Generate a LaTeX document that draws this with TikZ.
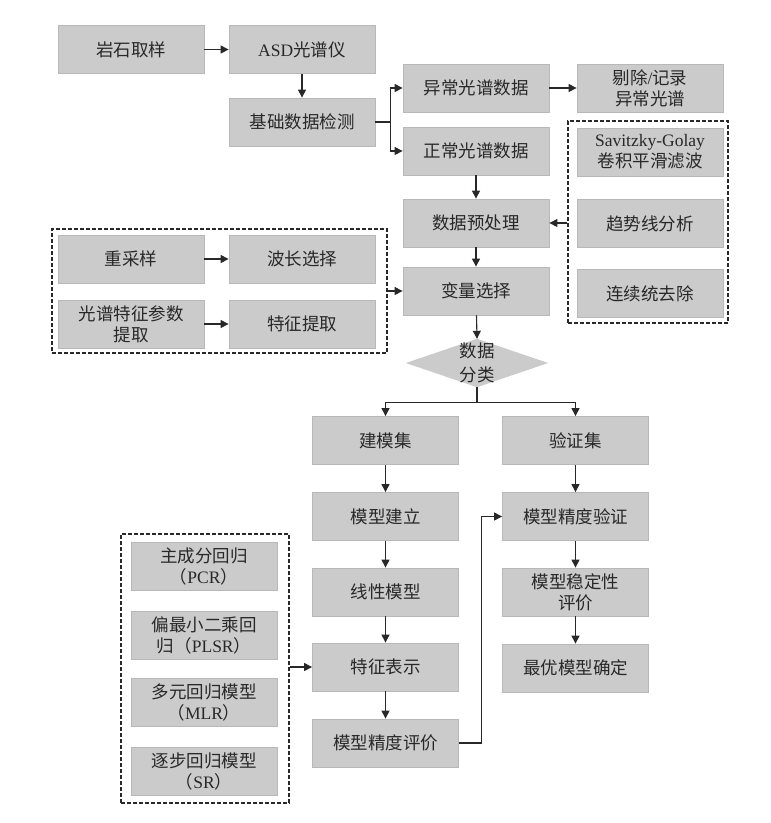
\documentclass[tikz,border=0pt]{standalone}
\usepackage{fontspec}
\setmainfont{Noto Sans CJK SC}
\newfontfamily\lat{Liberation Serif}
\usetikzlibrary{arrows.meta,calc}
\definecolor{boxfill}{RGB}{203,203,203}
\definecolor{boxline}{RGB}{184,184,184}
\definecolor{ink}{RGB}{40,40,40}
\tikzset{
  box/.style={rectangle, fill=boxfill, draw=boxline, line width=0.8pt,
    minimum width=146pt, minimum height=48pt, inner sep=2pt, align=center,
    text=ink, font={\fontsize{17.5}{21}\selectfont}},
  dbox/.style={rectangle, draw=ink, line width=1.4pt, dash pattern=on 4pt off 2pt, inner sep=0pt},
  arr/.style={draw=ink, line width=1.1pt, -{Triangle[length=8pt,width=8pt]}},
  ln/.style={draw=ink, line width=1.1pt}
}
\begin{document}
\begin{tikzpicture}[x=1pt,y=-1pt]
\useasboundingbox (0,0) rectangle (771,823);
% dashed groups
\node[dbox, minimum width=160pt, minimum height=202pt] (rbox) at (648,222) {};
\node[dbox, minimum width=335pt, minimum height=124pt] (lbox) at (219.5,291) {};
\node[dbox, minimum width=168pt, minimum height=269pt] (bbox) at (205,668.5) {};
% top rows
\node[box] (yan) at (131,49.5) {岩石取样};
\node[box] (asd) at (302,49.5) {{\lat ASD}光谱仪};
\node[box] (jichu) at (302,122) {基础数据检测};
\node[box] (yichang) at (476,88) {异常光谱数据};
\node[box] (tichu) at (650,88) {剔除{\lat /}记录\\异常光谱};
\node[box] (zhengchang) at (476,151) {正常光谱数据};
\node[box] (sg) at (650,152) {{\lat Savitzky-Golay}\\卷积平滑滤波};
\node[box] (qushi) at (650,223.5) {趋势线分析};
\node[box] (lianxu) at (650,293.5) {连续统去除};
\node[box] (yuchuli) at (476,223) {数据预处理};
\node[box] (bianliang) at (476,291) {变量选择};
\node[box] (chongcai) at (131,259) {重采样};
\node[box] (bochang) at (302,259) {波长选择};
\node[box] (guangpu) at (131,324) {光谱特征参数\\提取};
\node[box] (tezheng) at (302,324) {特征提取};
% diamond
\node[minimum width=142pt, minimum height=48pt, inner sep=0pt] (dia) at (477,363) {};
\fill[boxfill] (dia.north) -- (dia.east) -- (dia.south) -- (dia.west) -- cycle;
\node[align=center, text=ink, font={\fontsize{17.5}{24}\selectfont}] (diatext) at (dia) {数据\\分类};
% lower
\node[box] (jianmo) at (385.5,440.5) {建模集};
\node[box] (yanzheng) at (575.5,440.5) {验证集};
\node[box] (moxing) at (385.5,516.5) {模型建立};
\node[box] (xianxing) at (385.5,592) {线性模型};
\node[box] (tzbs) at (385.5,667) {特征表示};
\node[box] (jingdu) at (385.5,743) {模型精度评价};
\node[box] (jdyz) at (575.5,516.5) {模型精度验证};
\node[box] (wending) at (575.5,592) {模型稳定性\\评价};
\node[box] (zuiyou) at (575.5,668) {最优模型确定};
\node[box] (pcr) at (204,566.5) {主成分回归\\（{\lat PCR}）};
\node[box] (plsr) at (204,635) {偏最小二乘回\\归（{\lat PLSR}）};
\node[box] (mlr) at (204,702.5) {多元回归模型\\（{\lat MLR}）};
\node[box] (sr) at (204,771.5) {逐步回归模型\\（{\lat SR}）};
% connectors
\draw[arr] (yan) -- (asd);
\draw[arr] (asd) -- (jichu);
\draw[ln] (jichu.east) -- ++(15,0) coordinate (b1);
\draw[arr] (b1) |- (yichang.west);
\draw[arr] (b1) |- (zhengchang.west);
\draw[arr] (yichang) -- (tichu);
\draw[arr] (zhengchang) -- (yuchuli);
\draw[arr] (yuchuli) -- (bianliang);
\draw[arr] (rbox.west |- yuchuli) -- (yuchuli.east);
\draw[arr] (chongcai) -- (bochang);
\draw[arr] (guangpu) -- (tezheng);
\draw[arr] (lbox.east |- bianliang) -- (bianliang.west);
\draw[arr] (bianliang) -- (dia.north);
\coordinate (sp) at ($(dia.south)+(0,15)$);
\draw[ln] (dia.south) -- (sp);
\draw[arr] (sp) -| (jianmo.north);
\draw[arr] (sp) -| (yanzheng.north);
\draw[arr] (jianmo) -- (moxing);
\draw[arr] (moxing) -- (xianxing);
\draw[arr] (xianxing) -- (tzbs);
\draw[arr] (tzbs) -- (jingdu);
\draw[arr] (yanzheng) -- (jdyz);
\draw[arr] (jdyz) -- (wending);
\draw[arr] (wending) -- (zuiyou);
\draw[arr] (bbox.east |- tzbs) -- (tzbs.west);
\draw[arr] (jingdu.east) -- ++(23,0) |- (jdyz.west);
\end{tikzpicture}
\end{document}
